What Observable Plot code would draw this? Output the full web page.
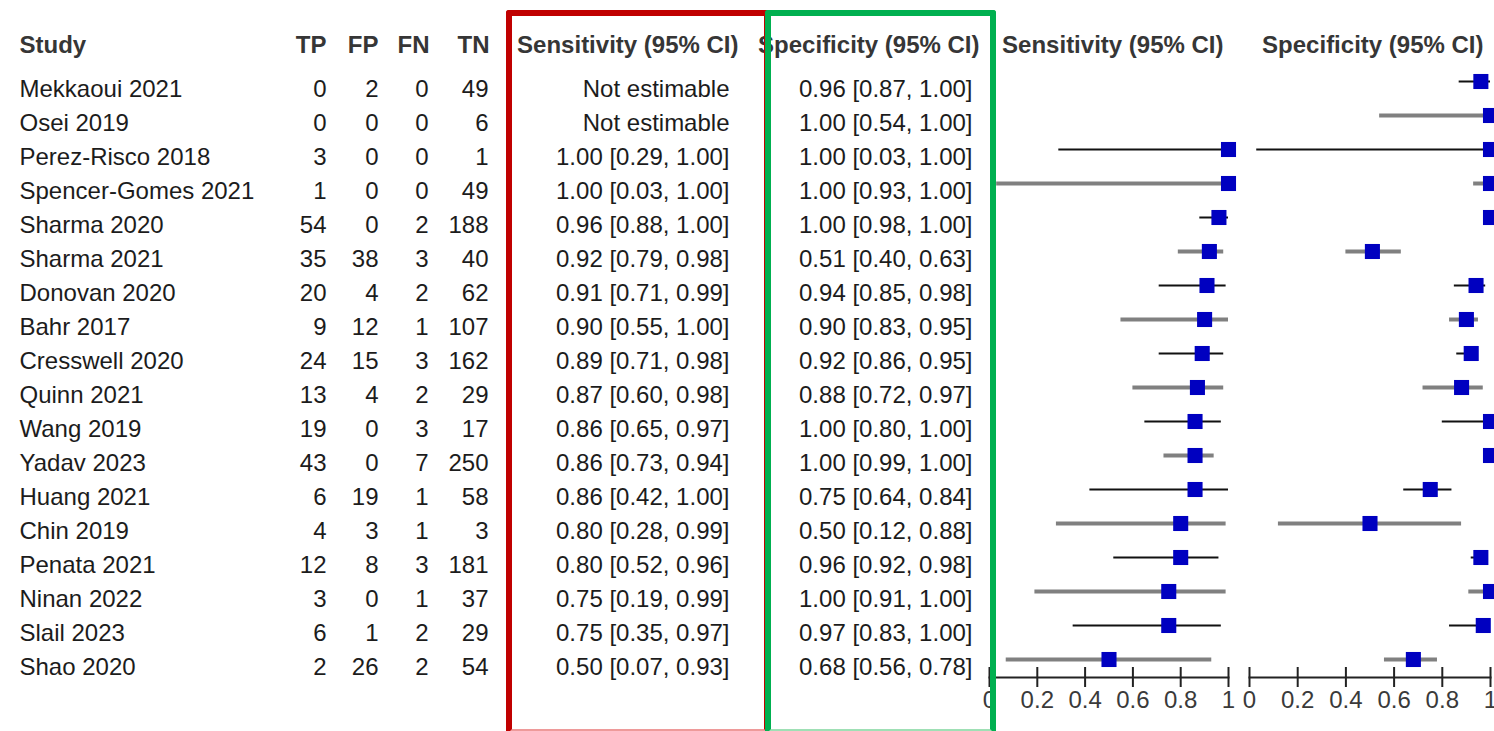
<!DOCTYPE html>
<html>
<head>
<meta charset="utf-8">
<script src="https://cdn.jsdelivr.net/npm/d3@7"></script>
<script src="https://cdn.jsdelivr.net/npm/@observablehq/plot@0.6"></script>
<style>
  html, body { margin: 0; padding: 0; overflow: hidden; background: #fff; }
  #chart { position: relative; width: 1494px; height: 731px; overflow: hidden; background: #fff; }
  #chart svg { position: absolute; top: 0; max-width: none; }
  .box { position: absolute; box-sizing: border-box; border-radius: 3px; }
</style>
</head>
<body>
<div id="chart"></div>
<script>
// ---------- data ----------
const studies = ["Mekkaoui 2021","Osei 2019","Perez-Risco 2018","Spencer-Gomes 2021","Sharma 2020","Sharma 2021","Donovan 2020","Bahr 2017","Cresswell 2020","Quinn 2021","Wang 2019","Yadav 2023","Huang 2021","Chin 2019","Penata 2021","Ninan 2022","Slail 2023","Shao 2020"];
const tp = [0,0,3,1,54,35,20,9,24,13,19,43,6,4,12,3,6,2];
const fp = [2,0,0,0,0,38,4,12,15,4,0,0,19,3,8,0,1,26];
const fn = [0,0,0,0,2,3,2,1,3,2,3,7,1,1,3,1,2,2];
const tn = [49,6,1,49,188,40,62,107,162,29,17,250,58,3,181,37,29,54];
const sensEst = [null,null,1.00,1.00,0.96,0.92,0.91,0.90,0.89,0.87,0.86,0.86,0.86,0.80,0.80,0.75,0.75,0.50];
const sensLo  = [null,null,0.29,0.03,0.88,0.79,0.71,0.55,0.71,0.60,0.65,0.73,0.42,0.28,0.52,0.19,0.35,0.07];
const sensHi  = [null,null,1.00,1.00,1.00,0.98,0.99,1.00,0.98,0.98,0.97,0.94,1.00,0.99,0.96,0.99,0.97,0.93];
const specEst = [0.96,1.00,1.00,1.00,1.00,0.51,0.94,0.90,0.92,0.88,1.00,1.00,0.75,0.50,0.96,1.00,0.97,0.68];
const specLo  = [0.87,0.54,0.03,0.93,0.98,0.40,0.85,0.83,0.86,0.72,0.80,0.99,0.64,0.12,0.92,0.91,0.83,0.56];
const specHi  = [1.00,1.00,1.00,1.00,1.00,0.63,0.98,0.95,0.95,0.97,1.00,1.00,0.84,0.88,0.98,1.00,1.00,0.78];
const axisTicks = [0,0.2,0.4,0.6,0.8,1];

// ---------- helpers ----------
const FONT = "'Liberation Sans', Arial, Helvetica, sans-serif";
const H = 731;
const chart = document.getElementById("chart");
const f2 = v => v.toFixed(2);
const ciText = (e, l, h) => e == null ? "Not estimable" : `${f2(e)} [${f2(l)}, ${f2(h)}]`;
const sensText = studies.map((_, i) => ciText(sensEst[i], sensLo[i], sensHi[i]));
const specText = studies.map((_, i) => ciText(specEst[i], specLo[i], specHi[i]));

function place(svg, left) {
  svg.style.left = left + "px";
  chart.append(svg);
}

// ---------- table columns ----------
const columns = [
  {values: studies, header: "Study", anchor: "start", edge: 19, hdx: 0},
  {values: tp, header: "TP", anchor: "end", edge: 326, hdx: 0},
  {values: fp, header: "FP", anchor: "end", edge: 378, hdx: 0},
  {values: fn, header: "FN", anchor: "end", edge: 428, hdx: 1},
  {values: tn, header: "TN", anchor: "end", edge: 488, hdx: 1},
  {values: sensText, header: "Sensitivity (95% CI)", anchor: "end", edge: 729, hdx: 9},
  {values: specText, header: "Specificity (95% CI)", anchor: "end", edge: 972, hdx: 7}
];

for (const col of columns) {
  const W = 260;
  const left = col.anchor === "start" ? col.edge : col.edge - W;
  const side = col.anchor === "start" ? "left" : "right";
  const rows = col.values.map((v, i) => ({study: studies[i], v}));
  const svg = Plot.plot({
    width: W, height: H, margin: 0,
    x: {axis: null},
    y: {type: "point", domain: studies, range: [87.3, 669.3], padding: 0, axis: null},
    style: {fontFamily: FONT, fontSize: "24px", background: "transparent", overflow: "visible"},
    marks: [
      Plot.text([col.header], {text: d => d, frameAnchor: "top-" + side, textAnchor: col.anchor, lineAnchor: "middle", dy: 45, dx: col.hdx, fontSize: 24, fontWeight: "bold", fill: "#363636"}),
      Plot.text(rows, {y: "study", text: d => String(d.v), frameAnchor: side, textAnchor: col.anchor, fontSize: 24, fill: "#1c1c1c"})
    ]
  });
  place(svg, left);
}

// ---------- forest plots ----------
function forest({est, lo, hi, header, x0, x1, marginRight, hdx}) {
  const mL = 30;
  const width = mL + (x1 - x0) + marginRight;
  const rows = studies.map((s, i) => ({study: s, i, est: est[i], lo: lo[i], hi: hi[i]})).filter(d => d.est != null);
  const svg = Plot.plot({
    width, height: H,
    marginLeft: mL, marginRight, marginTop: 0, marginBottom: H - 677,
    x: {domain: [0, 1], axis: null},
    y: {type: "point", domain: studies, range: [78, 662], padding: 0, axis: null},
    style: {fontFamily: FONT, fontSize: "24px", background: "transparent", overflow: "visible"},
    marks: [
      Plot.text([header], {text: d => d, frameAnchor: "top-right", textAnchor: "end", lineAnchor: "middle", dy: 45, dx: hdx, fontSize: 24, fontWeight: "bold", fill: "#363636"}),
      Plot.ruleY(rows.filter(d => d.i % 2 === 0), {y: "study", x1: "lo", x2: "hi", stroke: "#111", strokeWidth: 2}),
      Plot.ruleY(rows.filter(d => d.i % 2 === 1), {y: "study", x1: "lo", x2: "hi", stroke: "#808080", strokeWidth: 4}),
      Plot.dot(rows, {y: "study", x: "est", symbol: "square", r: 8.5, fill: "#0000c0", stroke: "none"}),
      Plot.frame({anchor: "bottom", stroke: "#222", strokeWidth: 2}),
      Plot.gridX(axisTicks, {x: d => d, stroke: "#222", strokeOpacity: 1, strokeWidth: 2, insetTop: 667}),
      Plot.axisX({anchor: "bottom", ticks: axisTicks, tickFormat: d => String(d), tickSize: 10, tickPadding: 3, strokeWidth: 2, stroke: "#222", fill: "#3a3a3a", fontSize: 24, label: null})
    ]
  });
  place(svg, x0 - mL);
}

forest({est: sensEst, lo: sensLo, hi: sensHi, header: "Sensitivity (95% CI)", x0: 989, x1: 1228, marginRight: 15, hdx: -5});
forest({est: specEst, lo: specLo, hi: specHi, header: "Specificity (95% CI)", x0: 1249, x1: 1490, marginRight: 4, hdx: -7});

// ---------- highlight boxes ----------
function box(left, right, color, bottomColor) {
  const d = document.createElement("div");
  d.className = "box";
  d.style.left = left + "px";
  d.style.top = "10px";
  d.style.width = (right - left) + "px";
  d.style.height = (735 - 10) + "px";
  d.style.border = `6px solid ${color}`;
  d.style.borderBottomColor = bottomColor;
  chart.append(d);
}
box(506, 770, "#c00000", "#ee9a9a");
box(765, 996, "#00b050", "#9fe0b5");
</script>
</body>
</html>
